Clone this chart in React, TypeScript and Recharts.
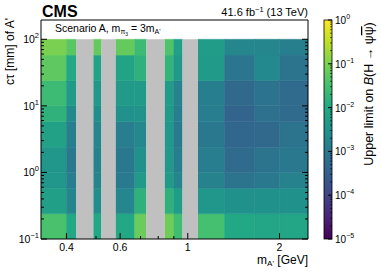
import { ComposedChart, ReferenceArea, Scatter, XAxis, YAxis } from 'recharts'

// bin edges of the limit map
const massEdges = [0.33, 0.4, 0.43, 0.49, 0.52, 0.58, 0.67, 0.73, 0.84, 0.9, 0.96, 1.08, 1.32, 1.66, 2.0, 2.48]
const ctauEdges = [0.1, 0.24, 0.58, 1, 2.4, 5.8, 10, 24, 58, 100]

// upper limit on B(H -> psi psibar), one list per mass bin, ctau bins bottom to top
// null = mass window vetoed (grey)
const limits: (number[] | null)[] = [
    [3.5e-2, 6.3e-3, 4.0e-3, 4.0e-3, 7.1e-3, 1.6e-2, 2.5e-2, 5.6e-2, 1.0e-1],
    [1.0e-2, 1.8e-3, 1.3e-3, 1.0e-3, 1.4e-3, 2.2e-3, 5.0e-3, 1.0e-2, 5.0e-2],
    null,
    [1.0e-2, 2.8e-3, 1.8e-3, 1.6e-3, 2.0e-3, 2.8e-3, 4.5e-3, 7.9e-3, 6.3e-2],
    null,
    [1.0e-2, 2.0e-3, 1.1e-3, 1.0e-3, 1.3e-3, 3.2e-3, 5.0e-3, 7.9e-3, 6.3e-2],
    [7.1e-2, 1.6e-2, 5.0e-3, 3.2e-3, 2.2e-3, 3.5e-3, 5.0e-3, 1.6e-2, 2.5e-2],
    null,
    [7.9e-2, 1.6e-2, 5.0e-3, 4.5e-3, 4.5e-3, 5.0e-3, 5.6e-3, 1.8e-2, 4.0e-2],
    [2.8e-2, 5.6e-3, 1.8e-3, 1.4e-3, 1.1e-3, 1.4e-3, 1.6e-3, 4.5e-3, 6.3e-3],
    null,
    [3.2e-2, 4.0e-3, 1.6e-3, 1.3e-3, 1.0e-3, 1.3e-3, 1.4e-3, 5.0e-3, 5.6e-3],
    [1.0e-2, 3.2e-3, 7.9e-4, 5.6e-4, 4.5e-4, 4.0e-4, 5.0e-4, 8.9e-4, 2.0e-3],
    [8.9e-3, 3.2e-3, 1.0e-3, 7.9e-4, 5.0e-4, 7.1e-4, 7.9e-4, 2.2e-3, 2.0e-3],
    [8.9e-3, 3.2e-3, 1.6e-3, 1.0e-3, 7.9e-4, 5.6e-4, 5.6e-4, 7.9e-4, 1.4e-3],
]

const xTicks = [0.4, 0.5, 0.6, 0.7, 0.8, 0.9, 1, 2]
const xLabels = [0.4, 0.6, 1, 2]
const yDecades = [0.1, 1, 10, 100]
const yExp = ['\u22121', '0', '1', '2']
const cbExp = ['0', '\u22121', '\u22122', '\u22123', '\u22124', '\u22125']

const X_DOMAIN = [0.33, 2.48]
const Y_DOMAIN = [0.1, 195]

const VIRIDIS = ['#440154', '#482475', '#414487', '#355f8d', '#2a788e', '#21918c', '#22a884', '#44bf70', '#7ad151', '#bddf26', '#fde725']
const FONT = '"Liberation Sans", Arial, sans-serif'

const hex = (c: string) => [1, 3, 5].map(i => parseInt(c.slice(i, i + 2), 16))

const viridis = (v: number) => {
    const t = Math.min(1, Math.max(0, (Math.log10(v) + 5) / 5)) * 10
    const i = Math.min(9, Math.floor(t))
    const f = t - i
    const a = hex(VIRIDIS[i])
    const b = hex(VIRIDIS[i + 1])
    return `rgb(${a.map((c, k) => Math.round(c + (b[k] - c) * f)).join(',')})`
}

const yTicks = [0.1, 1, 10].flatMap(d => [1, 2, 3, 4, 5, 6, 7, 8, 9].map(k => +(d * k).toPrecision(2))).concat([100])

const XTick = (side: 'bottom' | 'top') => (props: any) => {
    const { x, y, payload } = props
    const major = xLabels.includes(payload.value)
    const len = major ? 6 : 3
    return (
        <g>
            <line x1={x} x2={x} y1={y} y2={side === 'bottom' ? y - len : y + len} stroke="#000" />
            {side === 'bottom' && major && (
                <text x={x} y={y + 12} textAnchor="middle" fontSize={10.5} fontFamily={FONT} fill="#000">
                    {payload.value}
                </text>
            )}
        </g>
    )
}

const YTick = (side: 'left' | 'right') => (props: any) => {
    const { x, y, payload } = props
    const di = yDecades.indexOf(payload.value)
    const len = di >= 0 ? 6 : 3
    return (
        <g>
            <line x1={x} x2={side === 'left' ? x + len : x - len} y1={y} y2={y} stroke="#000" />
            {side === 'left' && di >= 0 && (
                <text x={x - 2} y={y + 4} textAnchor="end" fontSize={10.5} fontFamily={FONT} fill="#000">
                    10<tspan dy={-5} fontSize={7.5}>{yExp[di]}</tspan>
                </text>
            )}
        </g>
    )
}

const cells = limits.flatMap((col, i) =>
    col === null
        ? []
        : col.map((v, j) => ({
              x1: massEdges[i],
              x2: massEdges[i + 1],
              y1: ctauEdges[j],
              y2: ctauEdges[j + 1],
              v,
          }))
)

const vetoed = limits.flatMap((col, i) => (col === null ? [{ x1: massEdges[i], x2: massEdges[i + 1] }] : []))

const centers = cells.map(c => ({ m: Math.sqrt(c.x1 * c.x2), ct: Math.sqrt(c.y1 * c.y2) }))

// colour bar geometry
const CB = { x: 324, y: 20, w: 8, h: 219 }

const App = () => {
    return (
        <div style={{ position: 'absolute', left: 0, top: 0, width: 381, height: 271, background: '#fff' }}>
            <ComposedChart width={381} height={271} margin={{ top: 20, right: 0, bottom: 0, left: 0 }}>
                {cells.map((c, k) => (
                    <ReferenceArea
                        key={`c${k}`}
                        xAxisId="b"
                        yAxisId="l"
                        x1={c.x1}
                        x2={c.x2}
                        y1={c.y1}
                        y2={c.y2}
                        fill={viridis(c.v)}
                        fillOpacity={1}
                        stroke={viridis(c.v)}
                        strokeWidth={0.5}
                        ifOverflow="hidden"
                    />
                ))}
                {vetoed.map((c, k) => (
                    <ReferenceArea
                        key={`g${k}`}
                        xAxisId="b"
                        yAxisId="l"
                        x1={c.x1}
                        x2={c.x2}
                        y1={ctauEdges[0]}
                        y2={ctauEdges[ctauEdges.length - 1]}
                        fill="#c0c0c0"
                        fillOpacity={1}
                        ifOverflow="hidden"
                    />
                ))}
                <Scatter xAxisId="b" yAxisId="l" data={centers} dataKey="ct" fill="transparent" isAnimationActive={false} legendType="none" />
                <ReferenceArea
                    xAxisId="b"
                    yAxisId="l"
                    x1={X_DOMAIN[0]}
                    x2={X_DOMAIN[1]}
                    y1={Y_DOMAIN[0]}
                    y2={Y_DOMAIN[1]}
                    fill="none"
                    stroke="#000"
                    strokeWidth={1}
                />
                <XAxis xAxisId="b" dataKey="m" type="number" scale="log" domain={X_DOMAIN} allowDataOverflow ticks={xTicks}
                    interval={0} height={32} tickSize={0} tickMargin={0} axisLine={false} tick={XTick('bottom')} />
                <XAxis xAxisId="t" orientation="top" type="number" scale="log" domain={X_DOMAIN} allowDataOverflow ticks={xTicks}
                    interval={0} height={0} tickSize={0} tickMargin={0} axisLine={false} tick={XTick('top')} />
                <YAxis yAxisId="l" dataKey="ct" type="number" scale="log" domain={Y_DOMAIN} allowDataOverflow ticks={yTicks}
                    interval={0} width={41} tickSize={0} tickMargin={0} axisLine={false} tick={YTick('left')} />
                <YAxis yAxisId="r" orientation="right" type="number" scale="log" domain={Y_DOMAIN} allowDataOverflow ticks={yTicks}
                    interval={0} width={73} tickSize={0} tickMargin={0} axisLine={false} tick={YTick('right')} />
            </ComposedChart>
            <svg width={381} height={271} style={{ position: 'absolute', left: 0, top: 0, pointerEvents: 'none' }} fontFamily={FONT}>
                <defs>
                    <linearGradient id="vir" x1="0" y1="1" x2="0" y2="0">
                        {VIRIDIS.map((c, i) => (
                            <stop key={i} offset={`${i * 10}%`} stopColor={c} />
                        ))}
                    </linearGradient>
                </defs>
                <text x={42} y={17} fontSize={16} fontWeight="bold" fill="#000">CMS</text>
                <text x={308} y={16} fontSize={11} textAnchor="end" fill="#000">
                    41.6 fb<tspan dy={-4} fontSize={7.5}>{'\u22121'}</tspan>
                    <tspan dy={4}> (13 TeV)</tspan>
                </text>
                <text x={55} y={32} fontSize={10.5} fill="#000">
                    Scenario A, m<tspan dy={2} fontSize={7}>{'\u03c0'}</tspan>
                    <tspan dy={1.5} fontSize={5}>3</tspan>
                    <tspan dy={-3.5}> = 3m</tspan>
                    <tspan dy={2} fontSize={7}>A'</tspan>
                </text>
                <text transform="translate(14,18) rotate(-90)" fontSize={12} textAnchor="end" fill="#000">
                    c{'\u03c4'} [mm] of A'
                </text>
                <text x={308} y={264} fontSize={12} textAnchor="end" fill="#000">
                    m<tspan dy={2} fontSize={8}>A'</tspan>
                    <tspan dy={-2}> [GeV]</tspan>
                </text>
                <rect x={CB.x} y={CB.y} width={CB.w} height={CB.h} fill="url(#vir)" stroke="#000" strokeWidth={0.8} />
                {cbExp.map((e, i) => {
                    const y = CB.y + (CB.h * i) / 5
                    return (
                        <g key={e}>
                            <line x1={CB.x + CB.w} x2={CB.x + CB.w - 4} y1={y} y2={y} stroke="#000" />
                            {[2, 3, 4, 5, 6, 7, 8, 9].map(k =>
                                i < 5 ? (
                                    <line key={k} x1={CB.x + CB.w} x2={CB.x + CB.w - 2} y1={y + (CB.h / 5) * (1 - Math.log10(k))}
                                        y2={y + (CB.h / 5) * (1 - Math.log10(k))} stroke="#000" strokeWidth={0.6} />
                                ) : null
                            )}
                            <text x={CB.x + CB.w + 3} y={y + 4} fontSize={10} fill="#000">
                                10<tspan dy={-5} fontSize={7}>{e}</tspan>
                            </text>
                        </g>
                    )
                })}
                <text transform="translate(373,94) rotate(-90)" fontSize={12.5} textAnchor="middle" fill="#000">
                    Upper limit on <tspan fontStyle="italic">B</tspan>(H {'\u2192'} {'\u03c8'}
                    <tspan style={{ textDecoration: 'overline' }}>{'\u03c8'}</tspan>)
                </text>
            </svg>
        </div>
    )
}

export default App
